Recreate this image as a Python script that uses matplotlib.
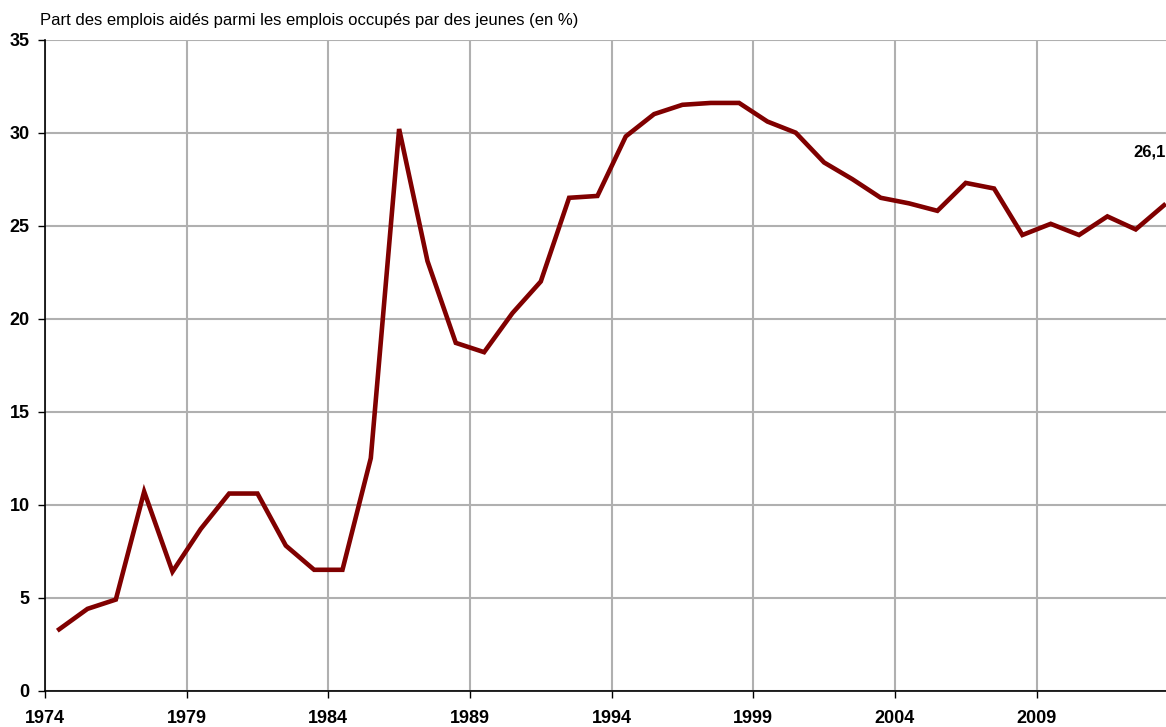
import matplotlib

matplotlib.use("Agg")
import matplotlib.pyplot as plt

plt.rcParams["font.family"] = ["Liberation Sans", "DejaVu Sans"]

# share of subsidised jobs among jobs held by young people (%)
years = list(range(1974, 2014))
share = [3.3, 4.4, 4.9, 10.7, 6.4, 8.7, 10.6, 10.6, 7.8, 6.5,
         6.5, 12.5, 30.2, 23.1, 18.7, 18.2, 20.3, 22.0, 26.5, 26.6,
         29.8, 31.0, 31.5, 31.6, 31.6, 30.6, 30.0, 28.4, 27.5, 26.5,
         26.2, 25.8, 27.3, 27.0, 24.5, 25.1, 24.5, 25.5, 24.8, 26.1]
xticks = list(range(1974, 2010, 5))
yticks = list(range(0, 36, 5))
last_label = "26,1"
subtitle = "Part des emplois aidés parmi les emplois occupés par des jeunes (en %)"

fig = plt.figure(figsize=(11.66, 7.27), dpi=100)
ax = fig.add_axes([45 / 1166, 36.3 / 727, 1 - 45 / 1166, 651 / 727])

# categories sit between the year ticks (Excel category axis)
xs = [y + 0.5 for y in years]
ax.plot(xs, share, color="#800000", lw=3.3, solid_joinstyle="miter", zorder=3)

ax.set_xlim(1974, 1974 + (1166 - 45) / 28.33)
ax.set_ylim(0, 35)
ax.set_xticks(xticks)
ax.set_xticklabels([str(t) for t in xticks], fontsize=13, fontweight="bold")
ax.set_yticks(yticks)
ax.set_yticklabels([str(t) for t in yticks], fontsize=13, fontweight="bold")
ax.tick_params(axis="x", length=5, width=1, pad=9)
ax.tick_params(axis="y", length=5, width=1, pad=6)

ax.grid(True, color="#b0b0b0", lw=1.5)
ax.set_axisbelow(True)
for s in ("top", "right"):
    ax.spines[s].set_visible(False)
for s in ("left", "bottom"):
    ax.spines[s].set_color("black")
    ax.spines[s].set_linewidth(1.2)
    ax.spines[s].set_zorder(4)

ax.text(xs[-1] - 0.5, 28.95, last_label, ha="center", va="center",
        fontsize=12, fontweight="bold")
fig.text(40 / 1166, 1 - 21 / 727, subtitle, ha="left", va="center", fontsize=12)

fig.savefig("out.png", dpi=100)
